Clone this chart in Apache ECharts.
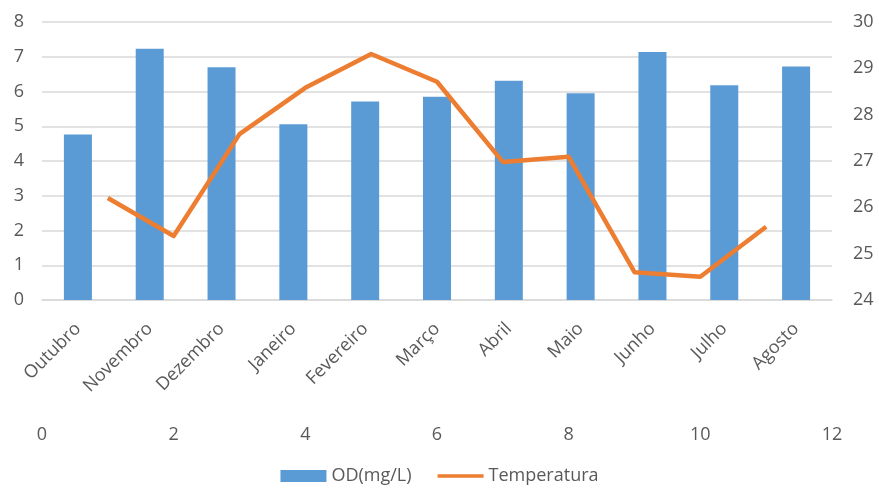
<!DOCTYPE html>
<html>
<head>
<meta charset="utf-8">
<script src="https://cdn.jsdelivr.net/npm/echarts@6/dist/echarts.min.js"></script>
<style>html,body{margin:0;padding:0;background:#fff}#c{width:879px;height:492px}</style>
</head>
<body>
<div id="c"></div>
<script>
const categories = ['Outubro','Novembro','Dezembro','Janeiro','Fevereiro','Março','Abril','Maio','Junho','Julho','Agosto'];
const odValues = [4.76, 7.23, 6.70, 5.06, 5.71, 5.85, 6.31, 5.95, 7.14, 6.18, 6.72];
const tempX = [1, 2, 3, 4, 5, 6, 7, 8, 9, 10, 11];
const tempValues = [26.2, 25.38, 27.58, 28.58, 29.31, 28.71, 26.98, 27.09, 24.6, 24.5, 25.58];
const leftTicks = {min: 0, max: 8, interval: 1};
const rightTicks = {min: 24, max: 30, interval: 1};
const xValueTicks = {min: 0, max: 12, interval: 2};

const FONT = "'Open Sans', 'Liberation Sans', sans-serif";
const TXT = '#595959';
const GRID = '#d9d9d9';

const chart = echarts.init(document.getElementById('c'), null, {renderer: 'canvas'});
chart.setOption({
  animation: false,
  textStyle: {fontFamily: FONT, color: TXT},
  grid: {left: 42, right: 47, top: 22, bottom: 192, containLabel: false},
  legend: {
    bottom: 2, left: 'center',
    itemWidth: 46, itemHeight: 12, itemGap: 26,
    textStyle: {fontFamily: FONT, fontSize: 18, color: TXT},
    data: [
      {name: 'OD(mg/L)', icon: 'rect'},
      {name: 'Temperatura', icon: 'path://M0,0 L0,0 M0,4 L52,4 L52,8 L0,8 Z M52,12 L52,12', itemStyle: {color: '#ED7D31'}}
    ]
  },
  xAxis: [
    {
      type: 'category', data: categories, position: 'bottom',
      axisLine: {lineStyle: {color: GRID, width: 1.5}},
      axisTick: {show: false},
      axisLabel: {rotate: 45, interval: 0, margin: 26, fontSize: 18, color: TXT, fontFamily: FONT}
    },
    {
      type: 'value', position: 'bottom', offset: 118,
      min: xValueTicks.min, max: xValueTicks.max, interval: xValueTicks.interval,
      axisLine: {show: false}, axisTick: {show: false}, splitLine: {show: false},
      axisLabel: {fontSize: 18, color: TXT, fontFamily: FONT, margin: 8}
    }
  ],
  yAxis: [
    {
      type: 'value', position: 'left',
      min: leftTicks.min, max: leftTicks.max, interval: leftTicks.interval,
      axisLine: {show: false}, axisTick: {show: false},
      splitLine: {lineStyle: {color: GRID, width: 1.5}},
      axisLabel: {fontSize: 18, color: TXT, fontFamily: FONT, margin: 18}
    },
    {
      type: 'value', position: 'right',
      min: rightTicks.min, max: rightTicks.max, interval: rightTicks.interval,
      axisLine: {show: false}, axisTick: {show: false}, splitLine: {show: false},
      axisLabel: {fontSize: 18, color: TXT, fontFamily: FONT, margin: 21}
    }
  ],
  series: [
    {
      name: 'OD(mg/L)', type: 'bar', xAxisIndex: 0, yAxisIndex: 0,
      data: odValues, barWidth: '39%',
      itemStyle: {color: '#5B9BD5'}
    },
    {
      name: 'Temperatura', type: 'line', xAxisIndex: 1, yAxisIndex: 1,
      data: tempX.map((x, i) => [x, tempValues[i]]),
      symbol: 'none', z: 5,
      lineStyle: {color: '#ED7D31', width: 4.5, join: 'round'},
      itemStyle: {color: '#ED7D31'}
    }
  ]
});
</script>
</body>
</html>
